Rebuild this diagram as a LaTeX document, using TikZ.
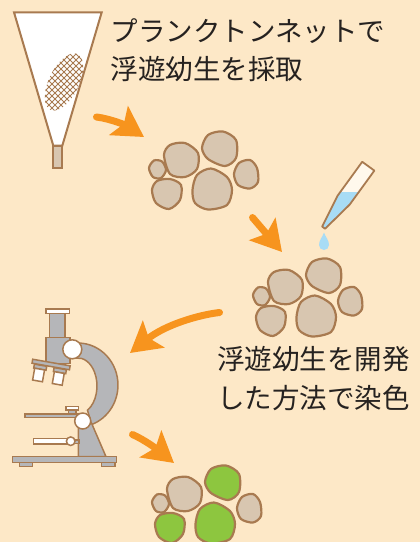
\documentclass[tikz,border=0pt]{standalone}
\usepackage{fontspec}
\newfontfamily\jpfont{Noto Sans CJK JP}
\definecolor{paper}{RGB}{253,232,199}
\definecolor{floworange}{RGB}{247,148,30}
\definecolor{shellbrown}{RGB}{168,122,80}
\definecolor{shelltan}{RGB}{216,198,176}
\definecolor{stainlime}{RGB}{141,198,63}
\definecolor{scopegray}{RGB}{181,182,185}
\definecolor{dyeblue}{RGB}{168,220,245}
\definecolor{tubecream}{RGB}{255,248,236}
\definecolor{inkgray}{RGB}{38,34,32}
\usetikzlibrary{arrows.meta}

\tikzset{
  cell/.style={draw=shellbrown, line width=2.2pt, fill=shelltan},
  part/.style={draw=shellbrown, line width=1.5pt, fill=scopegray},
  partw/.style={part, fill=white},
  netline/.style={draw=shellbrown, line width=2pt},
  mesh/.style={draw=shellbrown, line width=0.9pt},
  flow/.style={draw=floworange, line width=7pt, line cap=round,
    -{Stealth[length=30pt, width=34pt, inset=6pt]}},
  caption/.style={font=\jpfont\fontsize{27.5}{38.5}\selectfont, text=inkgray,
    align=left, inner sep=0pt, anchor=north west},
  % six larvae; #1 colours the three that take the stain
  pics/cellgroup/.style={code={
    \draw[cell] plot[smooth cycle] coordinates {(24,35) (30,25) (45,23) (58,33) (57,49) (45,57) (30,54)};
    \draw[cell, fill=#1] plot[smooth cycle] coordinates {(62,28) (68,15) (83,11.5) (96,20) (96,38) (85,46) (68,39)};
    \draw[cell] plot[smooth cycle] coordinates {(9,48) (14,40.5) (22,41.5) (26,50) (21,58) (13,57)};
    \draw[cell, fill=#1] plot[smooth cycle] coordinates {(12,70) (17,61) (30,59) (41,65) (40,80) (29,89) (16,83)};
    \draw[cell, fill=#1] plot[smooth cycle] coordinates {(52.5,70) (57,55) (71,48.5) (87,57) (92,70) (87,85) (68,89.5) (55,83)};
    \draw[cell] plot[smooth cycle] coordinates {(94,54) (99,43) (110,40) (117,48) (118,62) (110,68.5) (98,65)};
  }},
}

\begin{document}
\begin{tikzpicture}[x=1pt, y=-1pt]
  \useasboundingbox (0,0) rectangle (420,542);
  \fill[paper] (0,0) rectangle (420,542);
  \clip (0,0) rectangle (420,542);

  % Plankton net
  \draw[netline, fill=white] (14,12.3) -- (101.7,12.3) -- (62.3,145.7) -- (53.3,145.7) -- cycle;
  \draw[netline, fill=shelltan] (53.3,145.7) rectangle (62.3,167.7);
  \begin{scope}
    \clip[rotate around={64:(64,82)}] (64,82) ellipse [x radius=31, y radius=15];
    \foreach \d in {0,6,...,200} {
      \draw[mesh] (\d,40) -- ++(-90,90);
      \draw[mesh] (\d-100,40) -- ++(90,90);
    }
  \end{scope}

  % Captions
  \node[caption] (net-text) at (110.5,18) {プランクトンネットで\\浮遊幼生を採取};
  \node[caption] (stain-text) at (217,346.5) {浮遊幼生を開発\\した方法で染色};

  % Larvae before and after staining
  \pic at (140,120) {cellgroup=shelltan};
  \pic at (244,247) {cellgroup=shelltan};
  \pic at (143,454) {cellgroup=stainlime};

  % Pipette and drop
  \begin{scope}[shift={(368.3,166.2)}, rotate=-36]
    \coordinate (pip-tl) at (-7.5,0);
    \coordinate (pip-tr) at (7.5,0);
    \coordinate (pip-sr) at (7.5,42);
    \coordinate (pip-tipr) at (1.8,76);
    \coordinate (pip-tipl) at (-1.8,76);
    \coordinate (pip-sl) at (-7.5,42);
  \end{scope}
  \fill[tubecream] (pip-tl) -- (pip-tr) -- (pip-sr) -- (pip-tipr) -- (pip-tipl) -- (pip-sl) -- cycle;
  \begin{scope}
    \clip (pip-tl) -- (pip-tr) -- (pip-sr) -- (pip-tipr) -- (pip-tipl) -- (pip-sl) -- cycle;
    \fill[dyeblue] (310,192.3) rectangle (390,240);
  \end{scope}
  \draw[draw=shellbrown, line width=1.8pt, line join=round]
    (pip-tl) -- (pip-tr) -- (pip-sr) -- (pip-tipr) -- (pip-tipl) -- (pip-sl) -- cycle;
  \fill[dyeblue] (324,232.5) .. controls (325.5,237) and (329,240) .. (329,245)
    arc[start angle=0, end angle=180, radius=5] .. controls (319,240) and (322.5,237) .. cycle;

  % Microscope
  \draw[part] (74.5,343.2) arc[start angle=-95, end angle=70, x radius=40, y radius=42]
    -- (87.5,410.2) arc[start angle=60, end angle=-95, x radius=19, y radius=28] -- cycle;
  \draw[part] (78.3,424) -- (91.7,423.5) -- (106,456.7) -- (78.3,456.7) -- cycle;
  \draw[part] (25,414) rectangle (80,417.7);
  \draw[part] (68.5,410) rectangle (76,414);
  \draw[partw] (66,406.5) rectangle (78.5,410);
  \draw[partw] (33.3,438.3) rectangle (68.3,444);
  \draw[part] (74,440) rectangle (79,443.5);
  \draw[partw] (70.7,441.2) circle [radius=4.3];
  \draw[part] (19.3,462.7) rectangle (32.7,466.7);
  \draw[part] (101.7,462.7) rectangle (115,466.7);
  \draw[part] (12.7,456.7) rectangle (116.7,462.7);
  \draw[part] (49.3,313.3) rectangle (65,337.3);
  \draw[partw] (46,309) rectangle (69.3,313.3);
  \draw[part] (46,337.3) rectangle (70,363.3);
  \draw[part] (55,363.3) rectangle (65,367);
  \begin{scope}[rotate around={-10:(51,365)}]
    \draw[part] (34.5,367) rectangle (47,371);
    \draw[partw] (35.5,371) rectangle (45.5,383);
    \draw[part] (54.5,367) rectangle (67,371);
    \draw[partw] (55.5,371) rectangle (65.5,383);
    \draw[part] (32,362.5) rectangle (70,366.5);
  \end{scope}
  \draw[partw] (72.3,349.3) circle [radius=9.5];
  \draw[partw] (82.7,421) circle [radius=8];

  % Arrows
  \coordinate (arr1-a) at (96.5,117);
  \coordinate (arr1-b) at (144,137);
  \coordinate (arr2-a) at (252.5,217.5);
  \coordinate (arr2-b) at (282,252);
  \coordinate (arr3-a) at (219.5,312.5);
  \coordinate (arr3-b) at (130,353);
  \coordinate (arr4-a) at (132.5,434.5);
  \coordinate (arr4-b) at (174,463);
  \draw[flow] (arr1-a) .. controls (112,119) and (127,126) .. (arr1-b);
  \draw[flow] (arr2-a) -- (arr2-b);
  \draw[flow] (arr3-a) .. controls (198,315) and (165,325) .. (arr3-b);
  \draw[flow] (arr4-a) .. controls (145,440) and (158,450) .. (arr4-b);
\end{tikzpicture}
\end{document}
